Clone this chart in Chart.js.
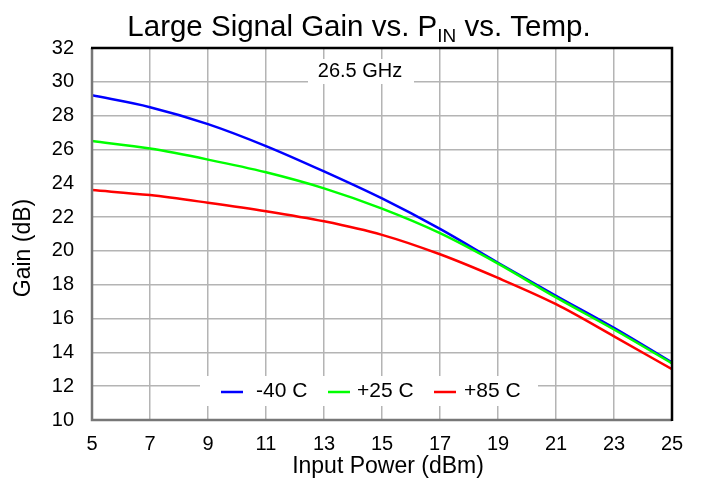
<!DOCTYPE html>
<html>
<head>
<meta charset="utf-8">
<script src="https://cdn.jsdelivr.net/npm/chart.js@4/dist/chart.umd.min.js"></script>
<style>
  html, body { margin: 0; padding: 0; background: #fff; }
  #wrap { width: 702px; height: 485px; }
</style>
</head>
<body>
<div id="wrap"><canvas id="gainChart" width="702" height="485"></canvas></div>
<script>
// Input power (dBm)
const inputPower = [5, 7, 9, 11, 13, 15, 17, 19, 21, 23, 25];
// Gain (dB) per temperature
const gainM40 = [29.2, 28.5, 27.5, 26.2, 24.7, 23.1, 21.3, 19.3, 17.35, 15.45, 13.4];
const gainP25 = [26.5, 26.05, 25.4, 24.65, 23.7, 22.5, 21.05, 19.25, 17.25, 15.35, 13.35];
const gainP85 = [23.6, 23.3, 22.85, 22.35, 21.75, 20.95, 19.8, 18.4, 16.85, 14.95, 13.0];
const seriesLabels = ['-40 C', '+25 C', '+85 C'];
const seriesColors = ['#0000ff', '#00ff00', '#ff0000'];
const xTicks = [5, 7, 9, 11, 13, 15, 17, 19, 21, 23, 25];
const yTicks = [10, 12, 14, 16, 18, 20, 22, 24, 26, 28, 30, 32];

const FONT = '"Liberation Sans", Arial, Helvetica, sans-serif';

function toPoints(ys) {
    return inputPower.map((x, i) => ({ x: x, y: ys[i] }));
}

// Title with subscript, axis titles, frequency label, inside legend and frame
const overlayPlugin = {
    id: 'overlay',
    beforeDatasetsDraw(chart) {
        const ctx = chart.ctx;
        ctx.save();
        ctx.fillStyle = '#fff';
        // frequency label box
        ctx.fillRect(308, 59, 106, 25);
        // legend box
        ctx.fillRect(200, 376, 338, 30);
        ctx.restore();
    },
    afterDatasetsDraw(chart) {
        const ctx = chart.ctx;
        const a = chart.chartArea;
        ctx.save();

        // frame
        ctx.lineWidth = 2.5;
        ctx.strokeStyle = '#777';
        ctx.beginPath();
        ctx.moveTo(a.left, a.top);
        ctx.lineTo(a.left, a.bottom);
        ctx.lineTo(a.right, a.bottom);
        ctx.stroke();
        ctx.strokeStyle = '#000';
        ctx.beginPath();
        ctx.moveTo(a.left - 1, a.top);
        ctx.lineTo(a.right, a.top);
        ctx.lineTo(a.right, a.bottom + 1);
        ctx.stroke();

        // title
        ctx.fillStyle = '#000';
        ctx.textBaseline = 'alphabetic';
        ctx.textAlign = 'left';
        const big = '29.5px ' + FONT;
        const small = '19px ' + FONT;
        const p1 = 'Large Signal Gain vs. P';
        const sub = 'IN';
        const p2 = ' vs. Temp.';
        ctx.font = big;
        const w1 = ctx.measureText(p1).width;
        const w3 = ctx.measureText(p2).width;
        ctx.font = small;
        const w2 = ctx.measureText(sub).width;
        let x = 359 - (w1 + w2 + w3) / 2;
        const base = 36;
        ctx.font = big;
        ctx.fillText(p1, x, base);
        x += w1;
        ctx.font = small;
        ctx.fillText(sub, x, base + 6);
        x += w2;
        ctx.font = big;
        ctx.fillText(p2, x, base);

        // axis titles
        ctx.font = '23px ' + FONT;
        ctx.textAlign = 'center';
        ctx.textBaseline = 'middle';
        ctx.fillText('Input Power (dBm)', 388, 467);
        ctx.save();
        ctx.translate(24, 248);
        ctx.rotate(-Math.PI / 2);
        ctx.fillText('Gain (dB)', 0, 0);
        ctx.restore();

        // frequency label
        ctx.font = '20px ' + FONT;
        ctx.fillText('26.5 GHz', 360, 71);

        // legend
        const items = [
            { lx: 221, tx: 256 },
            { lx: 328, tx: 357 },
            { lx: 434, tx: 464 }
        ];
        ctx.textAlign = 'left';
        ctx.font = '21px ' + FONT;
        items.forEach((it, i) => {
            ctx.strokeStyle = seriesColors[i];
            ctx.lineWidth = 2.5;
            ctx.beginPath();
            ctx.moveTo(it.lx, 392);
            ctx.lineTo(it.lx + 22, 392);
            ctx.stroke();
            ctx.fillStyle = '#000';
            ctx.fillText(seriesLabels[i], it.tx, 391);
        });
        ctx.restore();
    }
};

new Chart(document.getElementById('gainChart'), {
    type: 'line',
    data: {
        datasets: [gainM40, gainP25, gainP85].map((ys, i) => ({
            label: seriesLabels[i],
            data: toPoints(ys),
            borderColor: seriesColors[i],
            backgroundColor: seriesColors[i],
            borderWidth: 2.5,
            pointRadius: 0,
            cubicInterpolationMode: 'monotone',
            fill: false
        })).reverse()
    },
    options: {
        responsive: false,
        animation: false,
        devicePixelRatio: 1,
        layout: { padding: { top: 48, right: 30, left: 0, bottom: 0 } },
        plugins: {
            legend: { display: false },
            title: { display: false },
            tooltip: { enabled: false }
        },
        scales: {
            x: {
                type: 'linear',
                min: 5,
                max: 25,
                afterBuildTicks(scale) { scale.ticks = xTicks.map(v => ({ value: v })); },
                afterFit(scale) { scale.height = 65; },
                grid: { color: '#b4b4b4', lineWidth: 1.5, drawTicks: false },
                border: { display: false },
                ticks: { color: '#000', font: { family: FONT, size: 20 }, padding: 12, maxRotation: 0 }
            },
            y: {
                min: 10,
                max: 32,
                afterBuildTicks(scale) { scale.ticks = yTicks.map(v => ({ value: v })); },
                afterFit(scale) { scale.width = 92; },
                grid: { color: '#b4b4b4', lineWidth: 1.5, drawTicks: false },
                border: { display: false },
                ticks: { color: '#000', font: { family: FONT, size: 20 }, padding: 18 }
            }
        }
    },
    plugins: [overlayPlugin]
});
</script>
</body>
</html>
